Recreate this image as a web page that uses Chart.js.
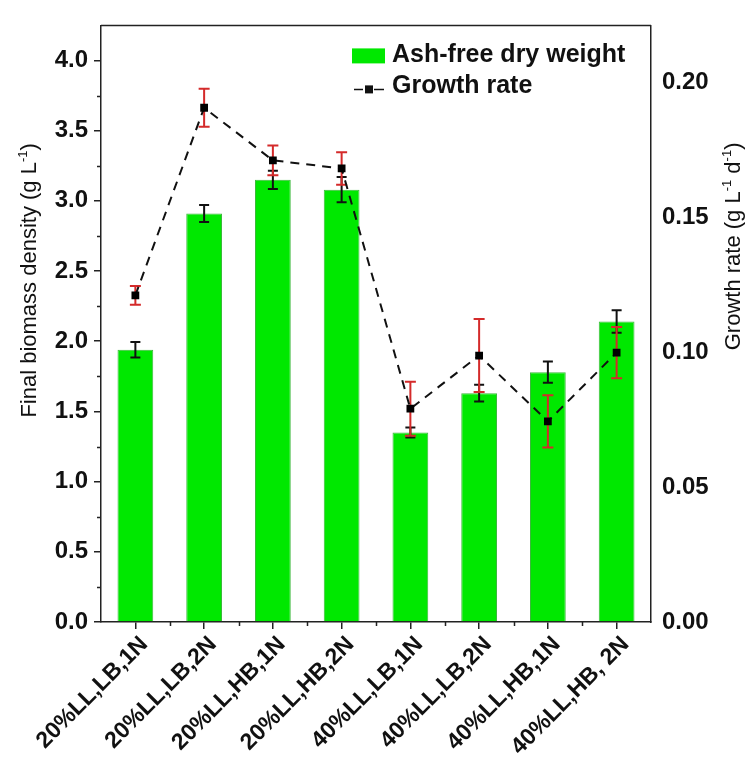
<!DOCTYPE html>
<html>
<head>
<meta charset="utf-8">
<script src="https://cdn.jsdelivr.net/npm/chart.js@4.4.0/dist/chart.umd.min.js"></script>
<style>
  html, body { margin: 0; padding: 0; background: #fff; }
  canvas { display: block; }
</style>
</head>
<body>
<canvas id="chart" width="747" height="758"></canvas>
<script>
// values
const categories = ['20%LL,LB,1N', '20%LL,LB,2N', '20%LL,HB,1N', '20%LL,HB,2N',
                    '40%LL,LB,1N', '40%LL,LB,2N', '40%LL,HB,1N', '40%LL,HB, 2N'];
const biomass = [1.94, 2.91, 3.15, 3.08, 1.35, 1.63, 1.78, 2.14];
const biomassErr = [0.055, 0.06, 0.065, 0.09, 0.035, 0.06, 0.075, 0.08];
const growthRate = [0.121, 0.1905, 0.171, 0.168, 0.079, 0.0987, 0.0743, 0.0998];
const growthErr = [0.0035, 0.007, 0.0055, 0.006, 0.010, 0.0135, 0.0097, 0.0095];
const leftTicks = [0, 0.5, 1, 1.5, 2, 2.5, 3, 3.5, 4];
const rightTicks = [0, 0.05, 0.1, 0.15, 0.2];

const FONT = "'Liberation Sans', Arial, sans-serif";
const GREEN = '#00e800';
const AXIS = '#222';

// text with superscript parts, centred on x
function richText(ctx, parts, x, y, size, weight) {
  let total = 0;
  parts.forEach(p => {
    ctx.font = weight + ' ' + (p.sup ? Math.round(size * 0.6) : size) + 'px ' + FONT;
    p.w = ctx.measureText(p.t).width;
    total += p.w;
  });
  let cx = x - total / 2;
  ctx.textAlign = 'left';
  ctx.textBaseline = 'alphabetic';
  parts.forEach(p => {
    ctx.font = weight + ' ' + (p.sup ? Math.round(size * 0.6) : size) + 'px ' + FONT;
    ctx.fillText(p.t, cx, p.sup ? y - size * 0.42 : y);
    cx += p.w;
  });
}

function errBar(ctx, x, y1, y2, cap, color) {
  ctx.strokeStyle = color;
  ctx.lineWidth = 2;
  ctx.setLineDash([]);
  ctx.beginPath();
  ctx.moveTo(x, y1); ctx.lineTo(x, y2);
  ctx.moveTo(x - cap, y1); ctx.lineTo(x + cap, y1);
  ctx.moveTo(x - cap, y2); ctx.lineTo(x + cap, y2);
  ctx.stroke();
}

const extras = {
  id: 'extras',
  afterDatasetDraw(chart, args) {
    if (args.index !== 0) return;
    const ctx = chart.ctx;
    const x = chart.scales.x, y = chart.scales.y;
    ctx.save();
    biomass.forEach((v, i) => {
      const px = x.getPixelForValue(i);
      errBar(ctx, px, y.getPixelForValue(v + biomassErr[i]), y.getPixelForValue(v - biomassErr[i]), 5, '#111');
    });
    ctx.restore();
  },
  beforeDatasetDraw(chart, args) {
    if (args.index !== 1) return;
    const ctx = chart.ctx;
    const x = chart.scales.x, y1 = chart.scales.y1;
    ctx.save();
    growthRate.forEach((v, i) => {
      const px = x.getPixelForValue(i);
      errBar(ctx, px, y1.getPixelForValue(v + growthErr[i]), y1.getPixelForValue(v - growthErr[i]), 5.5, '#d42a2a');
    });
    ctx.restore();
  },
  afterDraw(chart) {
    const ctx = chart.ctx;
    const a = chart.chartArea;
    const x = chart.scales.x, y = chart.scales.y;
    ctx.save();
    ctx.strokeStyle = AXIS;
    ctx.lineWidth = 1.5;
    ctx.beginPath();
    // top edge of the frame
    ctx.moveTo(a.left, a.top); ctx.lineTo(a.right, a.top);
    // minor ticks on left axis
    for (let i = 0; i < leftTicks.length - 1; i++) {
      const py = Math.round(y.getPixelForValue((leftTicks[i] + leftTicks[i + 1]) / 2)) + 0.5;
      ctx.moveTo(a.left - 4, py); ctx.lineTo(a.left, py);
    }
    // minor ticks on bottom axis
    for (let i = 0; i < categories.length - 1; i++) {
      const px = Math.round((x.getPixelForValue(i) + x.getPixelForValue(i + 1)) / 2) + 0.5;
      ctx.moveTo(px, a.bottom); ctx.lineTo(px, a.bottom + 4);
    }
    ctx.stroke();

    // axis titles
    ctx.fillStyle = '#111';
    ctx.save();
    ctx.translate(a.left - 65, a.top + 255);
    ctx.rotate(-Math.PI / 2);
    richText(ctx, [{t: 'Final biomass density (g L'}, {t: '-1', sup: true}, {t: ')'}], 0, 0, 22, 'normal');
    ctx.restore();
    ctx.save();
    ctx.translate(a.right + 89, a.top + 221);
    ctx.rotate(-Math.PI / 2);
    richText(ctx, [{t: 'Growth rate (g L'}, {t: '-1', sup: true}, {t: ' d'}, {t: '-1', sup: true}, {t: ')'}], 0, 0, 22, 'normal');
    ctx.restore();

    // legend
    const lx = a.left + 251;
    ctx.fillStyle = GREEN;
    ctx.fillRect(lx, a.top + 23, 33, 15);
    ctx.fillStyle = '#111';
    ctx.font = 'bold 25px ' + FONT;
    ctx.textAlign = 'left';
    ctx.textBaseline = 'alphabetic';
    ctx.fillText('Ash-free dry weight', lx + 40, a.top + 37);
    ctx.fillText('Growth rate', lx + 40, a.top + 68);
    ctx.strokeStyle = '#111';
    ctx.lineWidth = 1.5;
    ctx.beginPath();
    ctx.moveTo(lx + 2, a.top + 64); ctx.lineTo(lx + 11, a.top + 64);
    ctx.moveTo(lx + 22, a.top + 64); ctx.lineTo(lx + 32, a.top + 64);
    ctx.stroke();
    ctx.fillRect(lx + 13, a.top + 60, 8, 8);
    ctx.restore();
  }
};

new Chart(document.getElementById('chart').getContext('2d'), {
  data: {
    labels: categories,
    datasets: [{
      type: 'bar',
      label: 'Ash-free dry weight',
      data: biomass,
      yAxisID: 'y',
      backgroundColor: GREEN,
      borderColor: '#3cb83c',
      borderWidth: 1,
      barPercentage: 0.52,
      categoryPercentage: 1,
      order: 2
    }, {
      type: 'line',
      label: 'Growth rate',
      data: growthRate,
      yAxisID: 'y1',
      borderColor: '#111',
      borderWidth: 2,
      borderDash: [9, 7],
      tension: 0,
      pointStyle: 'rect',
      pointRadius: 5.5,
      pointBackgroundColor: '#000',
      pointBorderWidth: 0,
      order: 1
    }]
  },
  options: {
    responsive: false,
    animation: false,
    layout: { padding: { top: 15, left: 0, right: 0, bottom: 0 } },
    plugins: {
      legend: { display: false },
      tooltip: { enabled: false }
    },
    scales: {
      x: {
        offset: true,
        grid: { display: true, drawOnChartArea: false, offset: false, tickLength: 7, color: AXIS, lineWidth: 1.5 },
        border: { color: AXIS, width: 1.5 },
        ticks: {
          color: '#111', autoSkip: false, maxRotation: 45, minRotation: 45, padding: 2, labelOffset: 9,
          font: { family: FONT, size: 23, weight: 'bold' }
        },
        afterFit(scale) { scale.height = 136; }
      },
      y: {
        position: 'left',
        min: 0, max: 4.25,
        afterBuildTicks(scale) { scale.ticks = leftTicks.map(v => ({ value: v })); },
        grid: { display: true, drawOnChartArea: false, tickLength: 7, color: AXIS, lineWidth: 1.5 },
        border: { color: AXIS, width: 1.5 },
        ticks: {
          color: '#111', padding: 6,
          font: { family: FONT, size: 24, weight: 'bold' },
          callback: v => v.toFixed(1)
        },
        afterFit(scale) { scale.width = 101; }
      },
      y1: {
        position: 'right',
        min: 0, max: 0.221,
        afterBuildTicks(scale) { scale.ticks = rightTicks.map(v => ({ value: v })); },
        grid: { display: false, drawTicks: false },
        border: { color: AXIS, width: 1.5 },
        ticks: {
          color: '#111', padding: 11,
          font: { family: FONT, size: 24, weight: 'bold' },
          callback: v => v.toFixed(2)
        },
        afterFit(scale) { scale.width = 96; }
      }
    }
  },
  plugins: [extras]
});
</script>
</body>
</html>
